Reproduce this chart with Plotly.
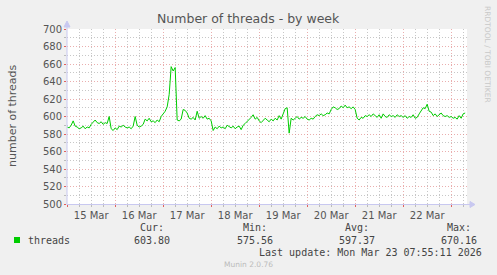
import plotly.graph_objects as go
import pandas as pd

# ---- data ----
start_time = "2026-03-15 00:00"
threads = [
    588, 587, 590, 595, 589, 588, 586, 587, 589, 586, 588, 587,
    591, 594, 596, 593, 592, 594, 591, 593, 592, 600, 586, 584,
    587, 585, 589, 588, 590, 588, 587, 588, 586, 589, 600, 590,
    588, 589, 591, 597, 595, 598, 594, 595, 593, 596, 594, 600,
    603, 606, 611, 625, 657, 652, 656, 596, 595, 597, 608, 607,
    604, 598, 597, 599, 596, 606, 598, 600, 598, 601, 597, 598,
    595, 584, 588, 586, 589, 587, 588, 586, 590, 588, 587, 589,
    586, 588, 589, 585, 590, 592, 594, 596, 599, 602, 597, 599,
    595, 593, 596, 598, 596, 594, 597, 595, 598, 596, 601, 597,
    603, 609, 610, 581, 598, 596, 598, 600, 597, 599, 598, 600,
    597, 596, 598, 597, 600, 602, 601, 603, 601, 602, 604, 603,
    608, 611, 610, 608, 609, 612, 610, 613, 610, 611, 609, 611,
    608, 598, 596, 599, 598, 601, 600, 602, 600, 603, 601, 599,
    602, 598, 603, 600, 599, 602, 600, 601, 599, 602, 600, 601,
    599, 601, 598, 600, 599, 602, 598, 599, 603, 606, 610, 609,
    614, 606, 605, 601, 603, 600, 602, 604, 601, 600, 601, 599,
    600, 598, 599, 597, 601, 598, 603, 604,
]
times = pd.date_range(start_time, periods=len(threads), freq="1h")

x_range = ["2026-03-14 23:55", "2026-03-23 07:55"]
y_range = [500, 700]

title_text = "Number of threads - by week"
y_title = "number of threads"
series_name = "threads"
stat_labels = ["Cur:", "Min:", "Avg:", "Max:"]
stat_values = ["603.80", "575.56", "597.37", "670.16"]
last_update = "Last update: Mon Mar 23 07:55:11 2026"
footer = "Munin 2.0.76"
side_text = "RRDTOOL / TOBI OETIKER"

# ---- layout geometry (pixels) ----
W, H = 497, 275
L, R, T, B = 67, 467, 29, 204


def px(x):
    return (x - L) / (R - L)


def py(y):
    return (B - y) / (B - T)


GREEN = "#00CC00"
MAJOR = "rgba(225,140,140,0.7)"
MINOR = "rgba(185,185,185,0.8)"
AXIS = "#C8C8F0"
TXT = "#555555"

fig = go.Figure()
fig.add_trace(go.Scatter(
    x=times, y=threads, mode="lines", name=series_name,
    line=dict(color=GREEN, width=1), showlegend=False,
    hoverinfo="skip",
))

mono = "DejaVu Sans Mono"
sans = "DejaVu Sans"

annotations = [
    dict(text=title_text, x=px(248.5), y=py(19), font=dict(family=sans, size=12.5, color=TXT)),
    dict(text=y_title, x=px(12), y=py(115), textangle=-90, font=dict(family=sans, size=11, color=TXT)),
    dict(text=side_text, x=px(488), y=py(54), textangle=90, font=dict(family=sans, size=7.5, color="#C8C8C8")),
    dict(text=series_name, x=px(26), y=py(240), xanchor="left", font=dict(family=mono, size=10, color="#444444")),
    dict(text=last_update, x=px(484), y=py(252), xanchor="right", font=dict(family=mono, size=10, color="#444444")),
    dict(text=footer, x=px(248), y=py(264), font=dict(family=sans, size=7.5, color="#BBBBBB")),
]
col_centers = [152, 254.5, 357, 459]
for cx, lab, val in zip(col_centers, stat_labels, stat_values):
    annotations.append(dict(text=lab, x=px(cx), y=py(227), font=dict(family=mono, size=10, color="#444444")))
    annotations.append(dict(text=val, x=px(cx), y=py(240), font=dict(family=mono, size=10, color="#444444")))
for a in annotations:
    a.update(xref="paper", yref="paper", showarrow=False)
    a.setdefault("xanchor", "center")
    a.setdefault("yanchor", "middle")

shapes = [
    # legend square
    dict(type="rect", xref="paper", yref="paper", x0=px(14), x1=px(20), y0=py(243), y1=py(237),
         fillcolor=GREEN, line=dict(width=0)),
    # axis lines with arrows
    dict(type="line", xref="paper", yref="paper", x0=px(67), x1=px(472), y0=py(204.5), y1=py(204.5),
         line=dict(color=AXIS, width=1)),
    dict(type="path", xref="paper", yref="paper",
         path=f"M {px(470)},{py(201.5)} L {px(475)},{py(204.5)} L {px(470)},{py(207.5)} Z",
         fillcolor=AXIS, line=dict(color=AXIS, width=1)),
    dict(type="line", xref="paper", yref="paper", x0=px(67), x1=px(67), y0=py(204.5), y1=py(24),
         line=dict(color=AXIS, width=1)),
    dict(type="path", xref="paper", yref="paper",
         path=f"M {px(64)},{py(27)} L {px(67)},{py(21)} L {px(70)},{py(27)} Z",
         fillcolor=AXIS, line=dict(color=AXIS, width=1)),
]

fig.update_layout(
    width=W, height=H,
    margin=dict(l=L, r=W - R, t=T, b=H - B),
    paper_bgcolor="#F0F0F0", plot_bgcolor="#FFFFFF",
    annotations=annotations, shapes=shapes,
    font=dict(family=sans, size=10, color=TXT),
    xaxis=dict(
        type="date", range=x_range,
        tick0="2026-03-15", dtick=86400000, ticklabelmode="period",
        tickformat="%d %b", tickfont=dict(family=sans, size=10, color=TXT),
        showgrid=True, gridcolor=MAJOR, griddash="1px,2px", gridwidth=1,
        ticks="outside", ticklen=2, tickcolor="#E06060",
        showline=False, zeroline=False,
        minor=dict(dtick=6 * 3600 * 1000, tick0="2026-03-15", showgrid=True,
                   gridcolor=MINOR, griddash="1px,2px", ticks="outside", ticklen=2,
                   tickcolor="#BBBBBB"),
        fixedrange=True,
    ),
    yaxis=dict(
        range=y_range, dtick=20, tick0=500,
        tickfont=dict(family=sans, size=10, color=TXT),
        showgrid=True, gridcolor=MAJOR, griddash="1px,2px", gridwidth=1,
        ticks="outside", ticklen=2, tickcolor="#E06060",
        showline=False, zeroline=False,
        minor=dict(dtick=10, showgrid=True, gridcolor=MINOR, griddash="1px,2px",
                   ticks="outside", ticklen=2, tickcolor="#BBBBBB"),
        fixedrange=True,
    ),
)

fig.write_html("out.html")
